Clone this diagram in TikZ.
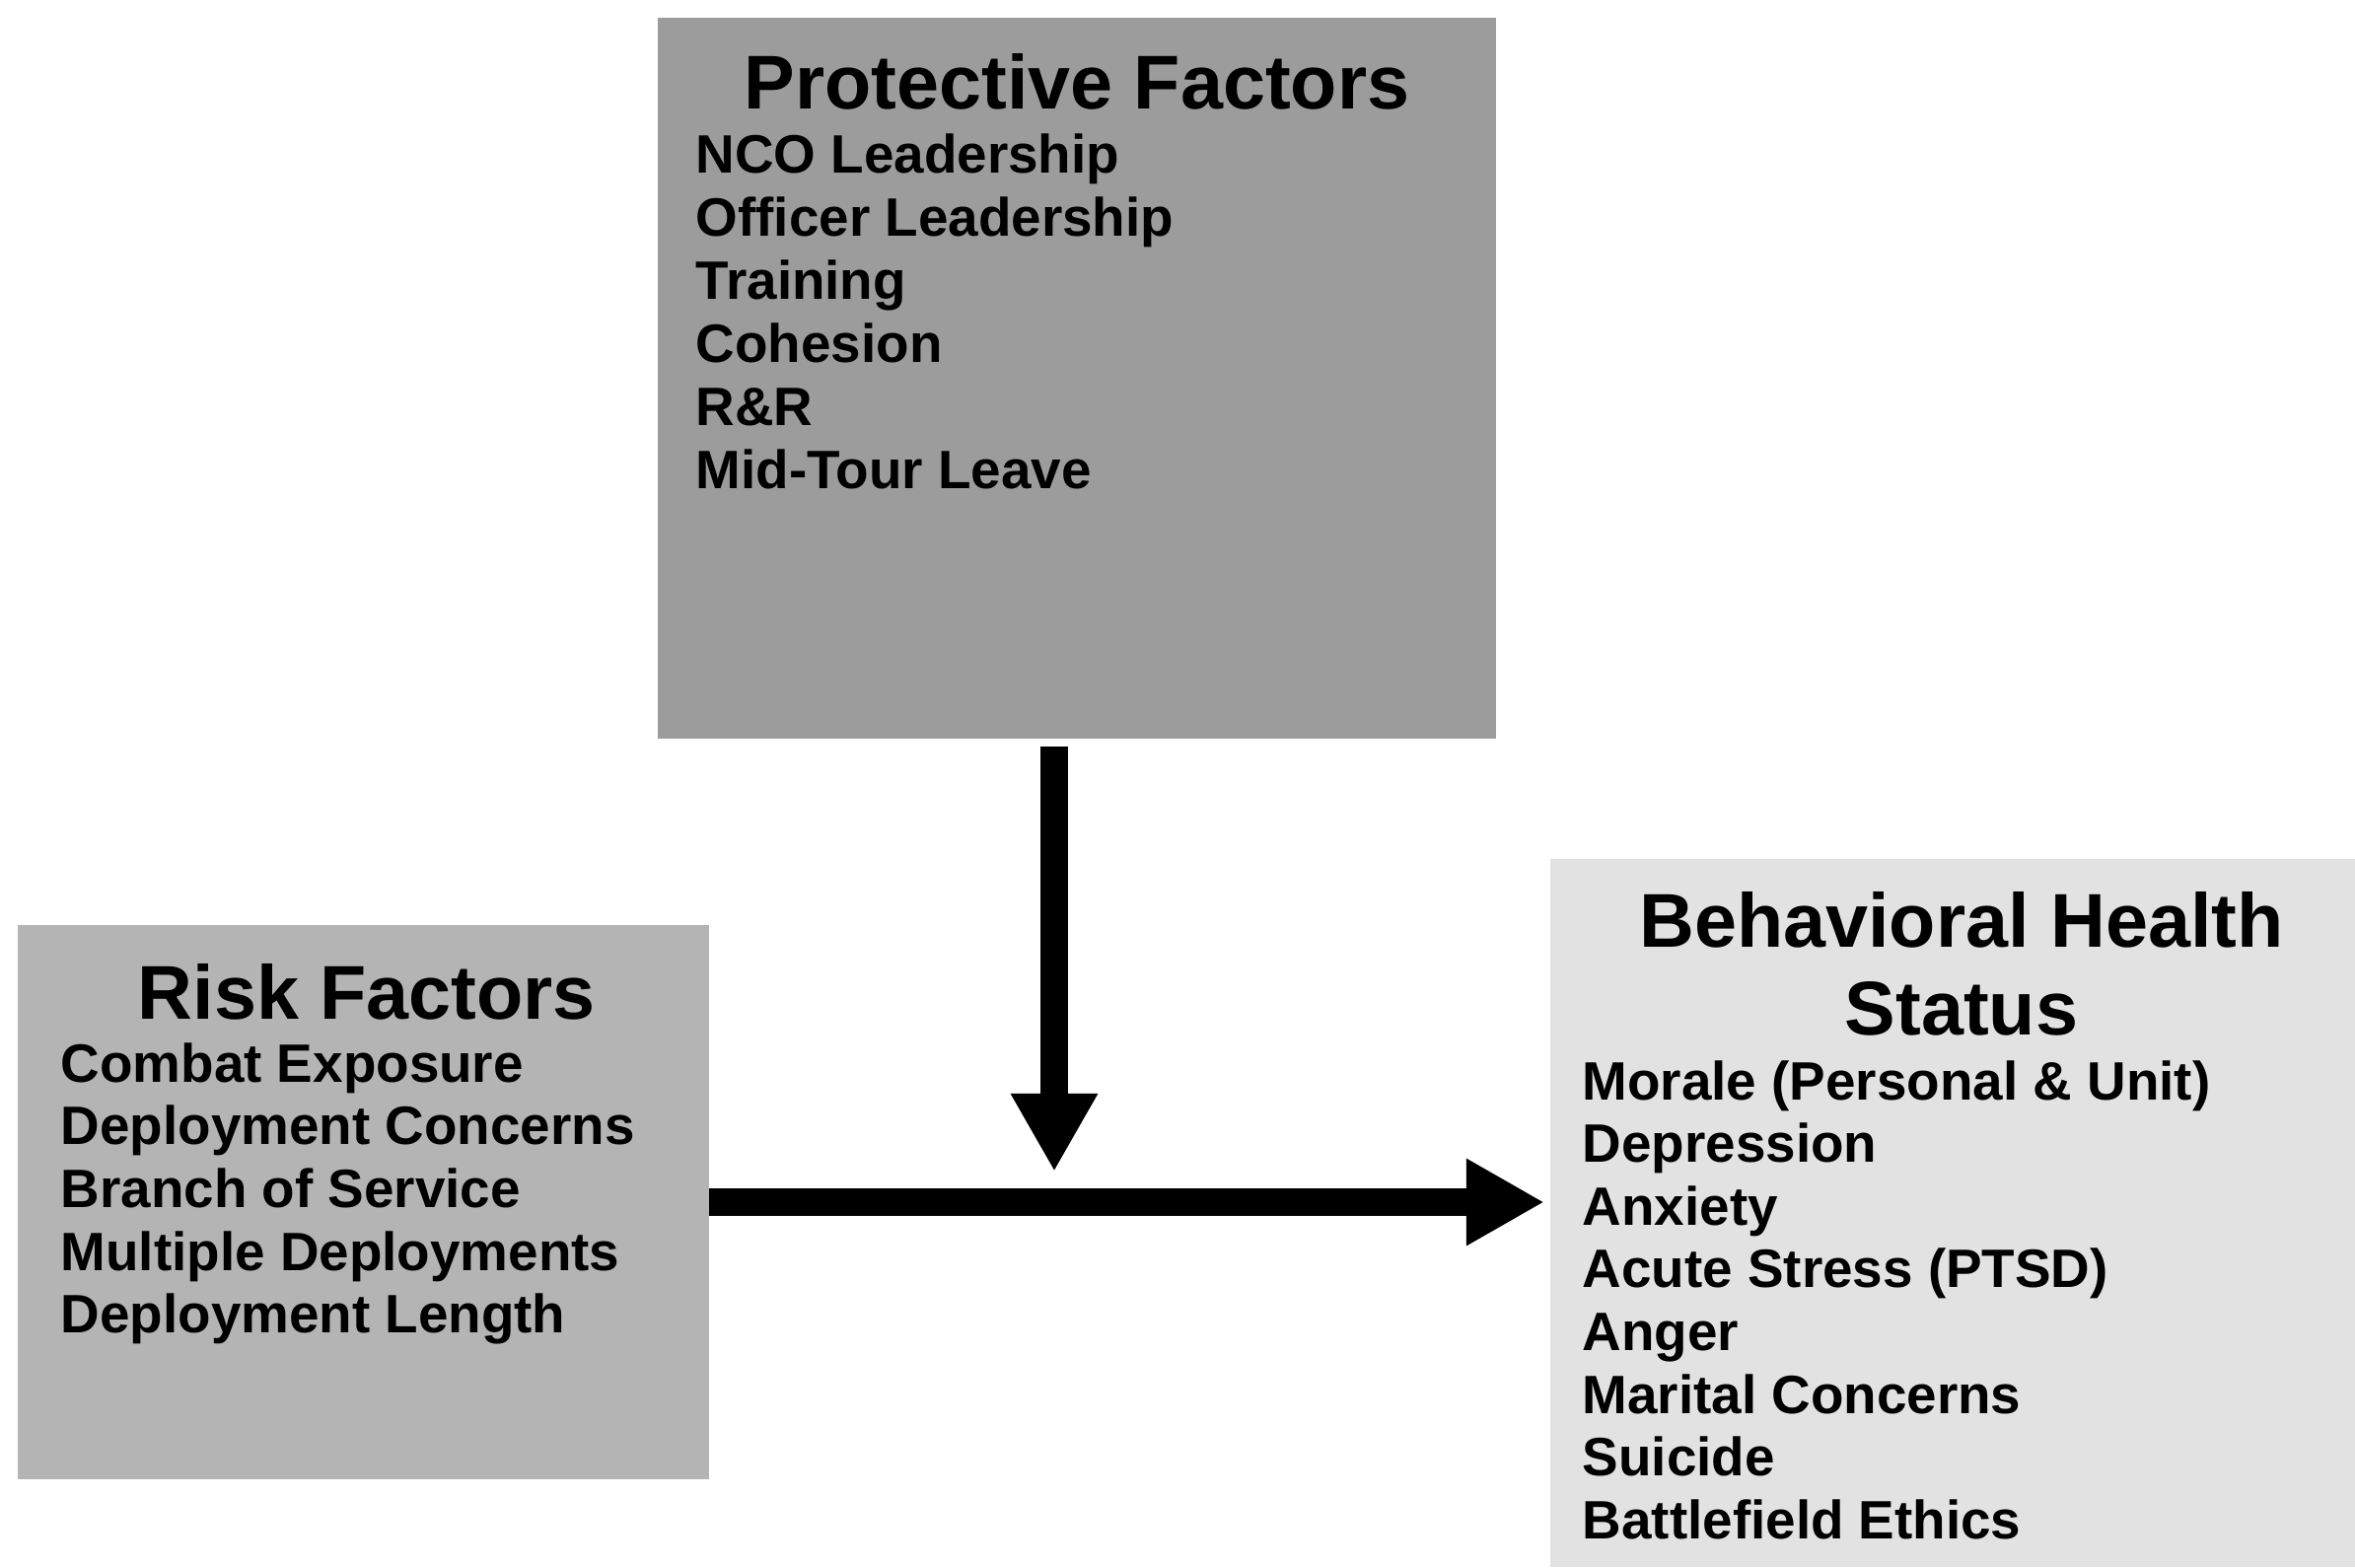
\documentclass[tikz,border=0pt]{standalone}
\usepackage{fontspec}
\setmainfont{Liberation Sans}
\usetikzlibrary{arrows.meta}
\definecolor{protgray}{HTML}{9C9C9C}
\definecolor{riskgray}{HTML}{B4B4B4}
\definecolor{behgray}{HTML}{E2E2E2}
\begin{document}
\begin{tikzpicture}[x=0.1mm,y=-0.1mm,
  box/.style={inner sep=0pt, outer sep=0pt, draw=none},
  ttl/.style={font=\fontsize{22}{26}\selectfont\bfseries, anchor=base, inner sep=0pt},
  item/.style={font=\fontsize{15.6}{18.2}\selectfont\bfseries, anchor=base west, inner sep=0pt},
  bigarrow/.style={line width=7.7pt, -{Triangle[length=22.5pt,width=23.5pt]}}]
\useasboundingbox (0,0) rectangle (2388,1589);
\fill[white] (0,0) rectangle (2388,1589);
% boxes
\node[box, fill=protgray, minimum width=85mm, minimum height=73.1mm] (prot) at (1092,383.5) {};
\node[box, fill=riskgray, minimum width=70.1mm, minimum height=56.2mm] (risk) at (368.5,1219) {};
\node[box, fill=behgray, minimum width=81.6mm, minimum height=71.8mm] (beh) at (1980,1230) {};
% titles
\node[ttl] (prottitle) at (1092,110) {Protective Factors};
\node[ttl] (risktitle) at (372,1033) {Risk Factors};
\node[ttl] (behtitle1) at (1989,960) {Behavioral Health};
\node[ttl] (behtitle2) at (1989,1049) {Status};
% items
\foreach \t [count=\i] in {NCO Leadership, Officer Leadership, Training, Cohesion, R\&R, Mid-Tour Leave}
  \node[item] (p\i) at (705,{175+64*(\i-1)}) {\t};
\foreach \t [count=\i] in {Combat Exposure, Deployment Concerns, Branch of Service, Multiple Deployments, Deployment Length}
  \node[item] (r\i) at (61,{1097+63.7*(\i-1)}) {\t};
\foreach \t [count=\i] in {Morale (Personal \& Unit), Depression, Anxiety, Acute Stress (PTSD), Anger, Marital Concerns, Suicide, Battlefield Ethics}
  \node[item] (b\i) at (1604,{1115+63.6*(\i-1)}) {\t};
% arrows
\coordinate (vtop) at (1069,757);
\coordinate (vtip) at (1069,1188);
\coordinate (htip) at (1566,1219);
\draw[bigarrow] (vtop) -- (vtip);
\draw[bigarrow] (risk.east) -- (htip);
\end{tikzpicture}
\end{document}
